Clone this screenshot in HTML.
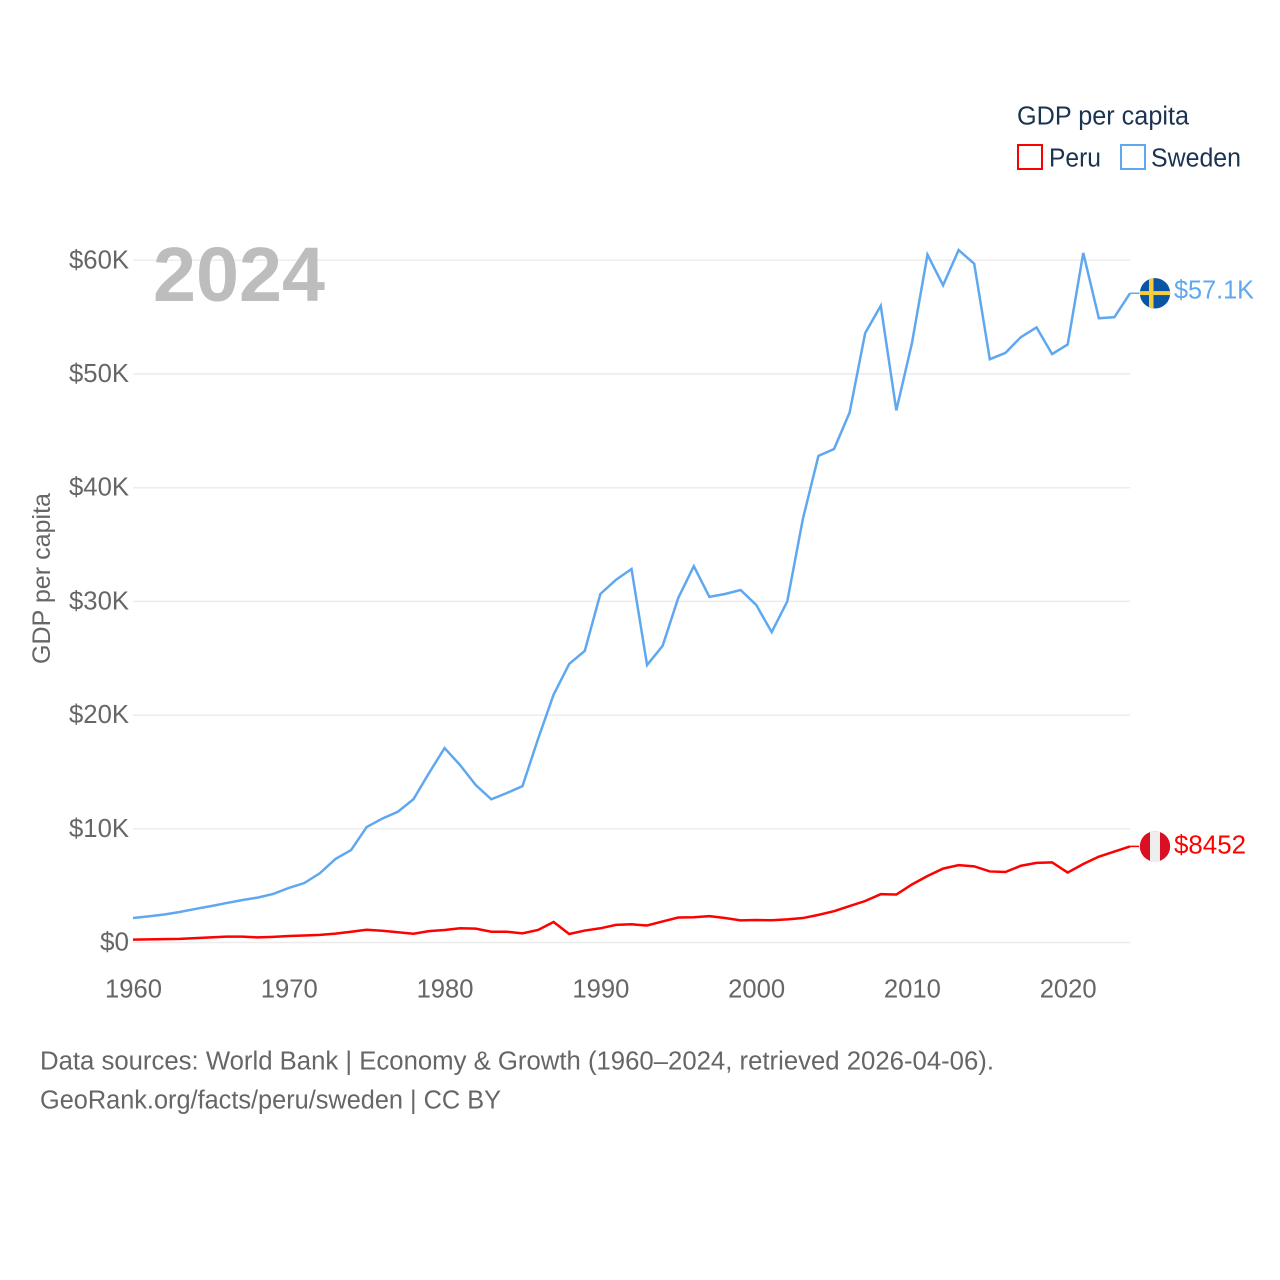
<!DOCTYPE html>
<html lang="en">
<head>
<meta charset="utf-8">
<title>GDP per capita: Peru and Sweden</title>
<style>
  html, body { margin: 0; padding: 0; background: #ffffff; }
  svg { display: block; font-family: "Liberation Sans", sans-serif; }
</style>
</head>
<body>
<svg id="chart" xmlns="http://www.w3.org/2000/svg" width="1280" height="1280" viewBox="0 0 1280 1280">
  <rect x="0" y="0" width="1280" height="1280" fill="#ffffff"/>
  <g id="grid"></g>
  <g id="yticks"></g>
  <g id="xticks"></g>
  <text x="153" y="301" font-size="77" font-weight="700" fill="#bdbdbd" textLength="172" lengthAdjust="spacingAndGlyphs">2024</text>
  <text transform="translate(50,664) rotate(-90)" font-size="25" fill="#666666" textLength="171" lengthAdjust="spacingAndGlyphs">GDP per capita</text>
  <g id="series"></g>

  <g>
    <text x="1017" y="124.5" font-size="25.5" fill="#1a3350" textLength="172" lengthAdjust="spacingAndGlyphs">GDP per capita</text>
    <g>
      <rect x="1018" y="145" width="24" height="24" fill="#ffffff" stroke="#ff0000" stroke-width="2"/>
      <text x="1049" y="166.5" font-size="25.5" fill="#1a3350" textLength="52" lengthAdjust="spacingAndGlyphs">Peru</text>
    </g>
    <g>
      <rect x="1121" y="145" width="24" height="24" fill="#ffffff" stroke="#5fa8f0" stroke-width="2"/>
      <text x="1151" y="166.5" font-size="25.5" fill="#1a3350" textLength="90" lengthAdjust="spacingAndGlyphs">Sweden</text>
    </g>
  </g>

  <g id="endmarks">
    <defs>
      <clipPath id="clip-se"><circle id="clip-se-c" cx="1155" r="15.2"/></clipPath>
      <clipPath id="clip-pe"><circle id="clip-pe-c" cx="1155" r="15.2"/></clipPath>
    </defs>
    <line id="dash-se" x1="1130" x2="1139" stroke="#5fa8f0" stroke-width="1.5"/>
    <line id="dash-pe" x1="1130" x2="1139" stroke="#ff0000" stroke-width="1.5"/>
    <g id="flag-se" clip-path="url(#clip-se)">
      <rect x="1139" y="-16" width="32" height="32" fill="#0b55a5"/>
      <rect x="1149" y="-16" width="4.5" height="32" fill="#f6cd3c"/>
      <rect x="1139" y="-2.2" width="32" height="4" fill="#f6cd3c"/>
    </g>
    <g id="flag-pe" clip-path="url(#clip-pe)">
      <rect x="1139" y="-16" width="32" height="32" fill="#d91023"/>
      <rect x="1150" y="-16" width="10" height="32" fill="#eeeeee"/>
    </g>
    <text id="label-se" x="1174" font-size="25.5" fill="#5fa8f0" textLength="80" lengthAdjust="spacingAndGlyphs">$57.1K</text>
    <text id="label-pe" x="1174" font-size="25.5" fill="#ff0000" textLength="72" lengthAdjust="spacingAndGlyphs">$8452</text>
  </g>

  <g>
    <text x="40" y="1069.5" font-size="25.5" fill="#666666" textLength="954" lengthAdjust="spacingAndGlyphs">Data sources: World Bank | Economy &amp; Growth (1960–2024, retrieved 2026-04-06).</text>
    <text x="40" y="1108.5" font-size="25.5" fill="#666666" textLength="461" lengthAdjust="spacingAndGlyphs">GeoRank.org/facts/peru/sweden | CC BY</text>
  </g>
</svg>

<script>
const startYear = 1960;
const endYear = 2024;
const yTickValues = [0, 10, 20, 30, 40, 50, 60];
const yTickLabels = ["$0", "$10K", "$20K", "$30K", "$40K", "$50K", "$60K"];
const xTickValues = [1960, 1970, 1980, 1990, 2000, 2010, 2020];
const swedenValues = [
  2.15, 2.3, 2.46, 2.68, 2.95, 3.2, 3.47, 3.73, 3.95, 4.27,
  4.8, 5.23, 6.1, 7.35, 8.13, 10.15, 10.9, 11.5, 12.6, 14.9,
  17.1, 15.6, 13.85, 12.6, 13.15, 13.75, 17.9, 21.8, 24.5, 25.65,
  30.65, 31.9, 32.85, 24.4, 26.1, 30.3, 33.1, 30.4, 30.65, 31.0,
  29.7, 27.3, 30.0, 37.25, 42.8, 43.4, 46.6, 53.6, 56.0, 46.8,
  52.7, 60.5, 57.8, 60.9, 59.7, 51.3, 51.85, 53.25, 54.1, 51.75,
  52.6, 60.65, 54.9, 55.0, 57.1
];
const peruValues = [
  0.25, 0.27, 0.3, 0.32, 0.38, 0.45, 0.52, 0.52, 0.45, 0.5,
  0.57, 0.62, 0.67, 0.78, 0.95, 1.12, 1.03, 0.9, 0.77, 1.0,
  1.1, 1.25, 1.22, 0.95, 0.95, 0.8, 1.1, 1.8, 0.75, 1.05,
  1.25, 1.55, 1.6, 1.5, 1.85, 2.2, 2.22, 2.32, 2.15, 1.95,
  1.98, 1.96, 2.03, 2.15, 2.43, 2.75, 3.2, 3.65, 4.25, 4.22,
  5.1, 5.85, 6.5, 6.8, 6.7, 6.25, 6.2, 6.75, 7.0, 7.05,
  6.15, 6.9, 7.55, 8.0, 8.452
];

const NS = "http://www.w3.org/2000/svg";
const plotLeft = 133, plotRight = 1130, plotBottom = 942.5, plotTop = 260.3;
function xScale(year) {
  return plotLeft + (year - startYear) * (plotRight - plotLeft) / (endYear - startYear);
}
function yScale(value) {
  return plotBottom - value * (plotBottom - plotTop) / 60;
}
function make(tag, attrs) {
  const el = document.createElementNS(NS, tag);
  for (const key in attrs) el.setAttribute(key, attrs[key]);
  return el;
}
function pathFrom(values) {
  return values.map(function (v, i) {
    return (i ? "L" : "M") + xScale(startYear + i).toFixed(2) + " " + yScale(v).toFixed(2);
  }).join(" ");
}

const gridGroup = document.getElementById("grid");
const yTickGroup = document.getElementById("yticks");
yTickValues.forEach(function (v, i) {
  const line = make("line", { x1: plotLeft, x2: plotRight, y1: yScale(v), y2: yScale(v), stroke: "#ececec", "stroke-width": 1.5 });
  
  
  gridGroup.appendChild(line);
  const label = make("text", { x: 129, y: yScale(v) + 8, "text-anchor": "end", "font-size": 25.5, fill: "#666666", textLength: yTickLabels[i].length === 2 ? 29 : 60, lengthAdjust: "spacingAndGlyphs" });
  
  
  label.textContent = yTickLabels[i];
  yTickGroup.appendChild(label);
});

const xTickGroup = document.getElementById("xticks");
xTickValues.forEach(function (year) {
  const label = make("text", { x: xScale(year) + 0.5, y: 997.5, "text-anchor": "middle", "font-size": 25.5, fill: "#666666", textLength: 57, lengthAdjust: "spacingAndGlyphs" });
  
  
  label.textContent = String(year);
  xTickGroup.appendChild(label);
});

const seriesGroup = document.getElementById("series");
const swedenLine = make("path", { d: pathFrom(swedenValues), fill: "none", stroke: "#5fa8f0", "stroke-width": 2.5, "stroke-linejoin": "miter" });


seriesGroup.appendChild(swedenLine);
const peruLine = make("path", { d: pathFrom(peruValues), fill: "none", stroke: "#ff0000", "stroke-width": 2.5, "stroke-linejoin": "miter" });


seriesGroup.appendChild(peruLine);

const seY = yScale(swedenValues[swedenValues.length - 1]);
const peY = yScale(peruValues[peruValues.length - 1]);
document.getElementById("dash-se").setAttribute("y1", seY);
document.getElementById("dash-se").setAttribute("y2", seY);
document.getElementById("dash-pe").setAttribute("y1", peY);
document.getElementById("dash-pe").setAttribute("y2", peY);
document.getElementById("clip-se-c").setAttribute("cy", seY);
document.getElementById("clip-pe-c").setAttribute("cy", peY);
document.getElementById("clip-se").setAttribute("clipPathUnits", "userSpaceOnUse");
document.getElementById("clip-pe").setAttribute("clipPathUnits", "userSpaceOnUse");
document.querySelectorAll("#flag-se rect").forEach(function (r) {
  r.setAttribute("y", parseFloat(r.getAttribute("y")) + seY);
});
document.querySelectorAll("#flag-pe rect").forEach(function (r) {
  r.setAttribute("y", parseFloat(r.getAttribute("y")) + peY);
});
document.getElementById("label-se").setAttribute("y", seY + 5);
document.getElementById("label-pe").setAttribute("y", peY + 7);
</script>
</body>
</html>
